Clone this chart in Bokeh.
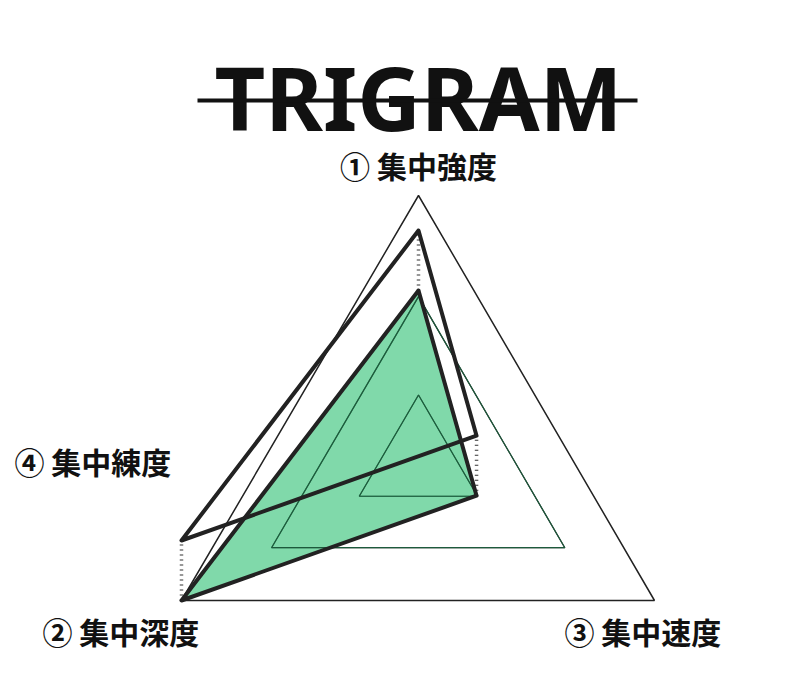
from bokeh.plotting import figure
from bokeh.models import Range1d
from bokeh.embed import file_html
from bokeh.resources import INLINE
from bokeh.core.properties import value

# Data
title = "TRIGRAM"
axis_labels = ["① 集中強度", "② 集中深度", "③ 集中速度"]
extra_label = "④ 集中練度"
base_values = [0.643, 1.0, 0.246]      # 強度, 深度, 速度 (fraction of axis)
practice_shift = 60                    # 練度 shift (px units upward)
grid_levels = [0.25, 0.62, 1.0]

# geometry (canvas units, y downward)
cx, cy = 426, 469
axis_vec = [(0, -266), (-237, 139), (236, 139)]

p = figure(width=778, height=670, output_backend="svg", toolbar_location=None,
           x_range=Range1d(8, 786), y_range=Range1d(678, 8), min_border=0)
p.axis.visible = False
p.grid.visible = False
p.outline_line_color = None

def tri(vals):
    xs = [cx + v * dx for v, (dx, dy) in zip(vals, axis_vec)]
    ys = [cy + v * dy for v, (dx, dy) in zip(vals, axis_vec)]
    return xs, ys

# outer grid
xs, ys = tri([1, 1, 1])
p.patch(xs, ys, fill_color=None, line_color="#222222", line_width=1.5)
for lv in grid_levels[:-1]:
    xs, ys = tri([lv] * 3)
    p.patch(xs, ys, fill_color=None, line_color="#222222", line_width=1.2)

# green area
gx, gy = tri(base_values)
p.patch(gx, gy, fill_color="#3cc47c", fill_alpha=0.65, line_color=None)
for lv in grid_levels[:-1]:
    xs, ys = tri([lv] * 3)
    p.patch(xs, ys, fill_color=None, line_color="#1d5a3c", line_width=1.2)

# shifted outline
sx = gx
sy = [y - practice_shift for y in gy]
for x, y0, y1 in zip(gx, gy, sy):
    p.line([x, x], [y0, y1], line_color="#333333", line_width=3.5, line_dash="1 4")
p.patch(sx, sy, fill_color=None, line_color="#222222", line_width=4, line_join="round")
p.patch(gx, gy, fill_color=None, line_color="#222222", line_width=4, line_join="round")

# title
p.text([426], [104], text=[title], text_font=value("Noto Sans"), text_font_style="bold",
       text_font_size="88px", text_align="center", text_baseline="alphabetic", text_color="#111111")
p.line([205, 645], [108, 108], line_color="#111111", line_width=4)

lf = value("Noto Sans CJK JP")
p.text([426], [172], text=[axis_labels[0]], text_font=lf, text_font_style="bold",
       text_font_size="30px", text_align="center", text_baseline="middle", text_color="#111111")
p.text([22], [468], text=[extra_label], text_font=lf, text_font_style="bold",
       text_font_size="30px", text_align="left", text_baseline="middle", text_color="#111111")
p.text([50], [638], text=[axis_labels[1]], text_font=lf, text_font_style="bold",
       text_font_size="30px", text_align="left", text_baseline="middle", text_color="#111111")
p.text([572], [638], text=[axis_labels[2]], text_font=lf, text_font_style="bold",
       text_font_size="30px", text_align="left", text_baseline="middle", text_color="#111111")

open("out.html", "w").write(file_html(p, INLINE))
